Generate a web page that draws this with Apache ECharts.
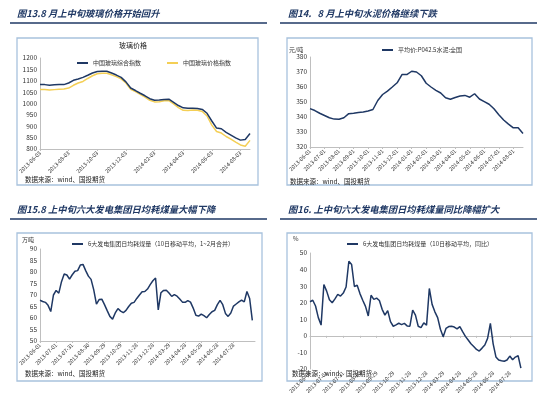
<!DOCTYPE html>
<html><head><meta charset="utf-8">
<script src="https://cdn.jsdelivr.net/npm/echarts@6/dist/echarts.min.js"></script>
<style>html,body{margin:0;padding:0;background:#fff}#c{width:550px;height:393px}</style>
</head><body><div id="c"></div>
<script>
// ---------- data ----------
const glassTicks = ['2013-06-03','2013-08-03','2013-10-03','2013-12-03','2014-02-03','2014-04-03','2014-06-03','2014-08-03'];
const glassComposite = [1083,1083,1080,1082,1083,1083,1090,1102,1108,1115,1124,1134,1141,1142,1142,1134,1125,1115,1095,1068,1057,1045,1034,1021,1014,1015,1018,1019,1005,991,981,979,979,978,974,957,923,892,889,873,861,849,839,842,868];
const glassPrice = [1062,1062,1059,1061,1063,1064,1068,1080,1090,1097,1110,1122,1131,1133,1133,1126,1118,1108,1090,1062,1052,1040,1028,1014,1007,1008,1012,1013,998,982,970,969,971,970,965,945,905,877,870,855,843,830,818,812,838];

const cementTicks = ['2013-06-01','2013-07-01','2013-08-01','2013-09-01','2013-10-01','2013-11-01','2013-12-01','2014-01-01','2014-02-01','2014-03-01','2014-04-01','2014-05-01','2014-06-01','2014-07-01','2014-08-01'];
const cementPrice = [345.6,344.3,342.5,341,339.5,338.6,338.5,339.5,342.2,342.5,343,343.3,344,345,351,355,357.3,360,362.8,368.3,368.3,370.5,370,367.5,362.5,360,357.8,356,352.8,351.8,353,354,354.4,353.2,355.5,352,350.3,348.5,345.5,341.5,338,335.3,332.8,332.8,329];

const coalTicks = ['2013-06-01','2013-07-01','2013-07-31','2013-08-30','2013-09-29','2013-10-29','2013-11-28','2013-12-28','2014-03-29','2014-04-28','2014-05-28','2014-06-28','2014-07-28'];
const coalDaily = [67.7,67.2,66.8,65.5,62.8,70,72,70.8,75.8,79.1,78.7,76.9,78.8,80.3,80.6,83,83.3,80.6,78.2,76.8,72.2,66,68,68.2,65.8,63.2,60.7,59.5,62.2,64.1,63,62.3,63.3,65,66.4,66.8,68.5,70,71.4,71.5,72.6,74.5,76.2,77.4,63.5,71,72,72.1,70.9,69.4,70.2,69.5,68.3,66.9,66.8,67.6,66.9,64.3,61.2,60.8,61.7,61,60.1,61.5,62.7,63.3,65.8,67.7,65.8,62,60.7,62.2,65.2,66.1,67,67.8,67,71.5,68.5,59];
const coalYoY = [20.6,21.5,18,11,6.5,31,27,21.8,20,22.3,25,24,25.8,29.5,45,43,29.8,30.5,25.5,21.5,17.8,12,24.5,22,22.8,21.3,16,12.5,15.2,8.6,5.8,6.6,7.6,6.8,7.5,6,5.8,15.6,12.5,5.8,5,7.8,6.5,28.6,19,14.5,11,4,-0.5,4.5,5.6,5.8,5.3,4.2,5.6,2.5,-0.3,-2.5,-4.8,-6.4,-8.2,-9.2,-7.4,-5.5,-1.5,7.5,-4.8,-12.7,-14.6,-15,-15.3,-14.6,-12.2,-14.4,-12.8,-12,-19.5];

// ---------- style ----------
const FONT = '"Noto Sans CJK SC", "Noto Sans", sans-serif';
const NAVY = '#1F3864';
const YELLOW = '#F4CF55';
const AXIS = '#BFBFBF';
const BOX = '#A8C2DD';

function cats(n){ const a=[]; for(let i=0;i<n;i++) a.push(String(i)); return a; }
function xAxisFor(gridIndex, n, ticks, step){
  const show = (i) => i % step === 0 && i / step < ticks.length;
  return {
    type:'category', gridIndex, data: cats(n), boundaryGap:false,
    axisLine:{lineStyle:{color:AXIS, width:1}},
    axisTick:{show:true, length:2, interval:(i)=>show(i), lineStyle:{color:AXIS}},
    axisLabel:{interval:(i)=>show(i), formatter:(v)=>ticks[Number(v)/step] || '',
      rotate:45, fontSize:5.5, margin:3, color:'#333', fontFamily:FONT},
    splitLine:{show:false}
  };
}
function yAxisFor(gridIndex, min, max, interval){
  return {type:'value', gridIndex, min, max, interval,
    axisLine:{show:true, lineStyle:{color:AXIS}}, axisTick:{show:false},
    splitLine:{show:false},
    axisLabel:{fontSize:6.5, margin:3, color:'#333', fontFamily:FONT, formatter:(v)=>String(v)}};
}
function lineSeries(name, idx, data, color){
  return {type:'line', name, xAxisIndex:idx, yAxisIndex:idx, data,
    symbol:'none', showSymbol:false, lineStyle:{width:1.5, color}, itemStyle:{color}};
}
function legendAt(left, y, names){
  return {left, top:y-4, padding:0, itemWidth:11, itemHeight:2, icon:'rect', selectedMode:false,
    textStyle:{fontSize:6, color:'#333', fontFamily:FONT}, data:names};
}
function txt(x, y, text, font, fill, align){
  return {type:'text', x, y, silent:true,
    style:{text, font, fill:fill||'#222', align:align||'left', verticalAlign:'middle'}};
}
function box(x, y, w, h){
  return {type:'rect', silent:true, shape:{x, y, width:w, height:h},
    style:{fill:'none', stroke:BOX, lineWidth:1.3}};
}
function rule(x1, x2, y){
  return {type:'rect', silent:true, shape:{x:x1, y:y-0.8, width:x2-x1, height:1.6}, style:{fill:NAVY}};
}

const titleFont = 'italic bold 9.3px ' + FONT;
const smallFont = '6px ' + FONT;
const srcFont = '6.5px ' + FONT;

const chart = echarts.init(document.getElementById('c'), null, {renderer:'canvas'});
chart.setOption({
  animation:false,
  backgroundColor:'#fff',
  grid:[
    {left:40, top:58, width:210, height:91, outerBoundsMode:'none'},
    {left:310, top:57, width:213, height:90, outerBoundsMode:'none'},
    {left:40, top:249, width:215, height:92, outerBoundsMode:'none'},
    {left:310, top:253, width:222, height:116, outerBoundsMode:'none'}
  ],
  xAxis:[
    xAxisFor(0, glassComposite.length, glassTicks, 6),
    xAxisFor(1, cementPrice.length, cementTicks, 3),
    xAxisFor(2, coalDaily.length + 1, coalTicks, 6),
    xAxisFor(3, 81, coalTicks, 6)
  ],
  yAxis:[
    yAxisFor(0, 800, 1200, 50),
    yAxisFor(1, 320, 380, 10),
    yAxisFor(2, 50, 90, 5),
    yAxisFor(3, -20, 50, 10)
  ],
  legend:[
    legendAt(77, 64, ['中国玻璃综合指数']),
    legendAt(167, 64, ['中国玻璃价格指数']),
    legendAt(382, 51, ['平均价:P042.5水泥:全国']),
    legendAt(72, 245, ['6大发电集团日均耗煤量（10日移动平均，1~2月合并）']),
    legendAt(347, 245, ['6大发电集团日均耗煤量（10日移动平均，同比）'])
  ],
  series:[
    lineSeries('中国玻璃价格指数', 0, glassPrice, YELLOW),
    lineSeries('中国玻璃综合指数', 0, glassComposite, NAVY),
    lineSeries('平均价:P042.5水泥:全国', 1, cementPrice, NAVY),
    lineSeries('6大发电集团日均耗煤量（10日移动平均，1~2月合并）', 2, coalDaily, NAVY),
    lineSeries('6大发电集团日均耗煤量（10日移动平均，同比）', 3, coalYoY, NAVY)
  ],
  graphic:[
    txt(17, 13, '图13.8 月上中旬玻璃价格开始回升', titleFont, NAVY),
    txt(288, 13, '图14.   8 月上中旬水泥价格继续下跌', titleFont, NAVY),
    txt(17, 209, '图15.8 上中旬六大发电集团日均耗煤量大幅下降', titleFont, NAVY),
    txt(288, 209, '图16. 上中旬六大发电集团日均耗煤量同比降幅扩大', titleFont, NAVY),
    rule(10, 267, 23), rule(280, 537, 23), rule(10, 267, 219), rule(280, 537, 219),
    box(17, 38, 241, 147), box(287, 38, 245, 147), box(17, 233, 245, 148), box(287, 233, 245, 148),
    txt(133, 45, '玻璃价格', '7px ' + FONT, '#222', 'center'),
    txt(289, 50, '元/吨', smallFont, '#333'),
    txt(22, 240, '万吨', smallFont, '#333'),
    txt(293, 239, '%', smallFont, '#333'),
    txt(25, 180, '数据来源：wind、国投期货', srcFont),
    txt(290, 182, '数据来源：wind、国投期货', srcFont),
    txt(25, 374, '数据来源：wind、国投期货', srcFont),
    txt(292, 374, '数据来源：wind、国投期货', srcFont)
  ]
});
</script></body></html>
